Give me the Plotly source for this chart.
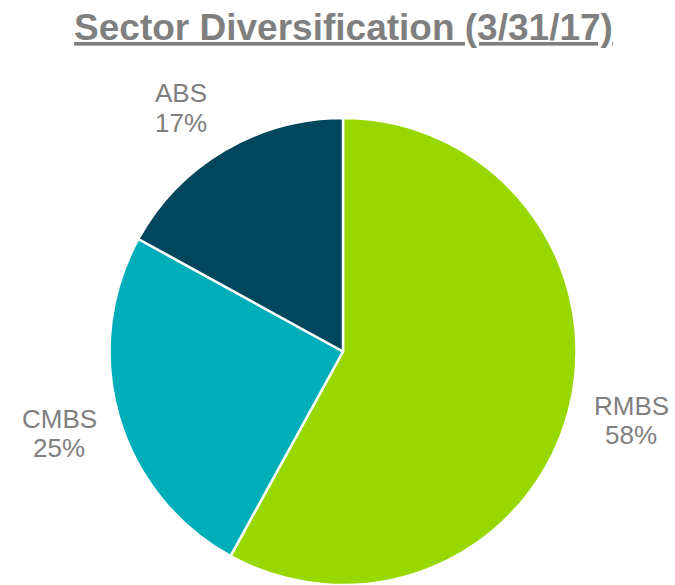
import plotly.graph_objects as go

sectors = ["RMBS", "CMBS", "ABS"]
shares = [58, 25, 17]
colors = ["#99D700", "#00AEB9", "#00475D"]
label_pos = {"RMBS": (631, 420), "CMBS": (59.5, 433), "ABS": (181, 108)}

W, H = 675, 585

fig = go.Figure(go.Pie(
    labels=sectors, values=shares, sort=False, direction="clockwise", rotation=0,
    marker=dict(colors=colors, line=dict(color="white", width=2.5)),
    textinfo="none", hoverinfo="label+percent",
    domain=dict(x=[108 / W, 578 / W], y=[0, 1 - 118 / H]),
    showlegend=False,
))

lab_font = dict(family="Liberation Sans, Arial", size=26, color="#7F7F7F")
for s, v in zip(sectors, shares):
    px, py = label_pos[s]
    for txt, dy in ((s, -14.5), (f"{v}%", 15)):
        fig.add_annotation(x=px / W, y=1 - (py + dy) / H, xref="paper", yref="paper",
                           text=txt, showarrow=False, align="center",
                           xanchor="center", yanchor="middle", font=lab_font)

fig.update_layout(
    width=W, height=H,
    margin=dict(l=0, r=0, t=0, b=0),
    paper_bgcolor="white", plot_bgcolor="white",
    title=dict(text="<b><u>Sector Diversification (3/31/17)</u></b>",
               x=343.5 / W, xanchor="center", y=1 - 27 / H, yanchor="middle",
               font=dict(family="Liberation Sans, Arial", size=37, color="#7F7F7F")),
)

fig.write_html("out.html", config={"displayModeBar": False},
               post_script="document.body.style.margin='0';document.body.style.overflow='hidden';")
